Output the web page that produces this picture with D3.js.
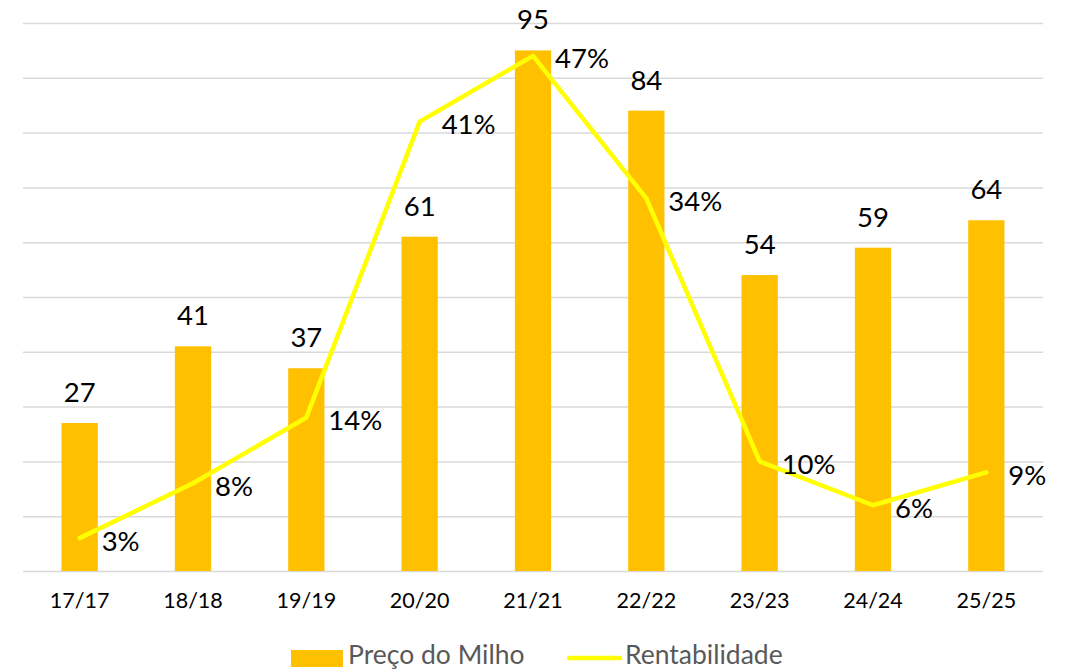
<!DOCTYPE html>
<html>
<head>
<meta charset="utf-8">
<script src="https://cdn.jsdelivr.net/npm/d3@7"></script>
<style>
  body { margin: 0; background: #fff; }
  svg { display: block; }
</style>
</head>
<body>
<div id="chart"></div>
<script>
// chart data
const categories = ["17/17", "18/18", "19/19", "20/20", "21/21", "22/22", "23/23", "24/24", "25/25"];
const precoMilho = [27, 41, 37, 61, 95, 84, 54, 59, 64];
const rentabilidade = [0.03, 0.08, 0.14, 0.41, 0.47, 0.34, 0.10, 0.06, 0.09];
const seriesNames = ["Preço do Milho", "Rentabilidade"];

const width = 1074, height = 671;
const margin = {top: 23, right: 31, bottom: 100, left: 23};
const innerW = width - margin.left - margin.right;
const innerH = height - margin.top - margin.bottom;
const font = "Lato, 'Open Sans', sans-serif";

const svg = d3.select("#chart").append("svg")
    .attr("width", width)
    .attr("height", height);

const g = svg.append("g")
    .attr("transform", "translate(" + margin.left + "," + margin.top + ")");

const xScale = d3.scaleBand()
    .domain(categories)
    .range([0, innerW])
    .paddingInner(0.68)
    .paddingOuter(0.34);
const yScale = d3.scaleLinear().domain([0, 100]).range([innerH, 0]);
const y2Scale = d3.scaleLinear().domain([0, 0.5]).range([innerH, 0]);

// gridlines
g.append("g")
    .attr("class", "grid")
    .call(d3.axisLeft(yScale).tickValues(d3.range(0, 101, 10)).tickSize(-innerW).tickFormat(""))
    .call(a => a.select(".domain").remove())
    .call(a => a.selectAll("line").attr("stroke", "#d9d9d9").attr("stroke-width", 1.5));

// x axis labels
g.append("g")
    .attr("transform", "translate(0," + innerH + ")")
    .call(d3.axisBottom(xScale).tickSize(0).tickPadding(22))
    .call(a => a.select(".domain").remove())
    .call(a => a.selectAll("text")
        .attr("font-family", font)
        .attr("font-size", 21.5)
        .attr("fill", "#000"));

// bars
g.selectAll(".bar")
    .data(precoMilho)
    .join("rect")
    .attr("class", "bar")
    .attr("x", (d, i) => xScale(categories[i]))
    .attr("y", d => yScale(d))
    .attr("width", xScale.bandwidth())
    .attr("height", d => innerH - yScale(d))
    .attr("fill", "#ffc000");

g.selectAll(".barLabel")
    .data(precoMilho)
    .join("text")
    .attr("class", "barLabel")
    .attr("x", (d, i) => xScale(categories[i]) + xScale.bandwidth() / 2)
    .attr("y", d => yScale(d) - 21)
    .attr("text-anchor", "middle")
    .attr("font-family", font)
    .attr("font-size", 27.5)
    .attr("fill", "#000")
    .text(d => d);

// line
const cx = i => xScale(categories[i]) + xScale.bandwidth() / 2;
const line = d3.line()
    .x((d, i) => cx(i))
    .y(d => y2Scale(d));

g.append("path")
    .datum(rentabilidade)
    .attr("d", line)
    .attr("fill", "none")
    .attr("stroke", "#ffff00")
    .attr("stroke-width", 4.5)
    .attr("stroke-linecap", "round")
    .attr("stroke-linejoin", "round");

g.selectAll(".lineLabel")
    .data(rentabilidade)
    .join("text")
    .attr("class", "lineLabel")
    .attr("x", (d, i) => cx(i) + 22)
    .attr("y", d => y2Scale(d) + 2)
    .attr("dominant-baseline", "central")
    .attr("font-family", font)
    .attr("font-size", 27.5)
    .attr("fill", "#000")
    .text(d => Math.round(d * 100) + "%");

// legend
const legend = svg.append("g").attr("class", "legend");
legend.append("rect")
    .attr("x", 291).attr("y", 650)
    .attr("width", 52).attr("height", 17)
    .attr("fill", "#ffc000");
legend.append("text")
    .attr("x", 348).attr("y", 664)
    .attr("font-family", font).attr("font-size", 26.5)
    .attr("fill", "#595959")
    .text(seriesNames[0]);
legend.append("line")
    .attr("x1", 569).attr("x2", 620)
    .attr("y1", 658).attr("y2", 658)
    .attr("stroke", "#ffff00")
    .attr("stroke-width", 4.5)
    .attr("stroke-linecap", "round");
legend.append("text")
    .attr("x", 625).attr("y", 664)
    .attr("font-family", font).attr("font-size", 26.5)
    .attr("fill", "#595959")
    .text(seriesNames[1]);
</script>
</body>
</html>
